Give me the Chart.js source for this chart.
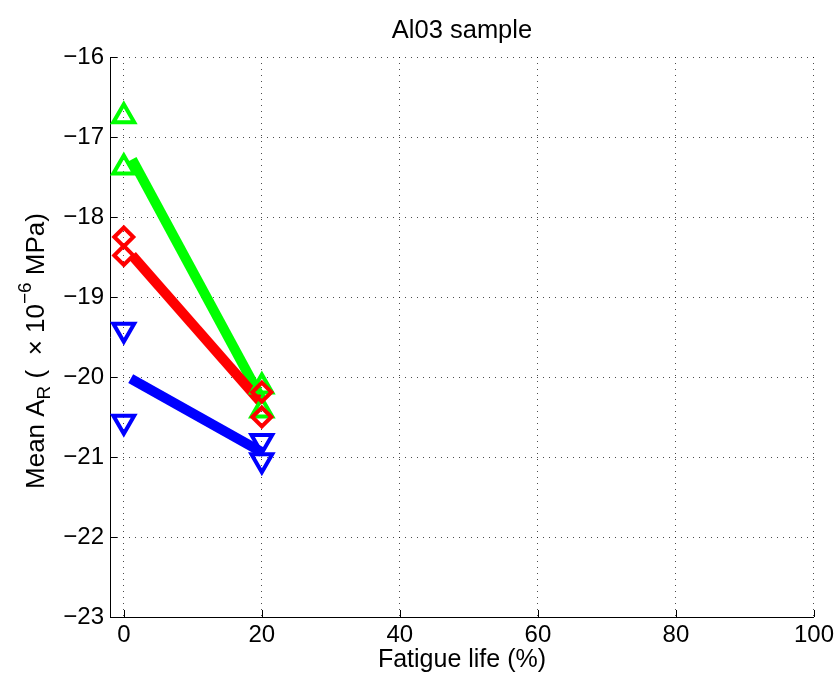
<!DOCTYPE html>
<html>
<head>
<meta charset="utf-8">
<script src="https://cdn.jsdelivr.net/npm/chart.js@4.4.1/dist/chart.umd.min.js"></script>
<style>
  html, body { margin: 0; padding: 0; background: #fff; }
  #wrap { width: 838px; height: 675px; position: relative; }
</style>
</head>
<body>
<div id="wrap"><canvas id="chart" width="838" height="675"></canvas></div>
<script>
// axis ticks
const xTicks = [0, 20, 40, 60, 80, 100];
const yTicks = [-23, -22, -21, -20, -19, -18, -17, -16];

// measured mean A_R, two samples at each fatigue level
const greenX = [0, 0, 20, 20];
const greenY = [-16.74, -17.38, -20.12, -20.42];
const redX = [0, 0, 20, 20];
const redY = [-18.25, -18.48, -20.19, -20.5];
const blueX = [0, 0, 20, 20];
const blueY = [-19.41, -20.56, -20.8, -21.04];

// fitted trend lines (start / end)
const greenFitX = [1.2, 20];
const greenFitY = [-17.28, -20.28];
const redFitX = [1.2, 20];
const redFitY = [-18.48, -20.33];
const blueFitX = [1.0, 20];
const blueFitY = [-20.02, -20.94];

const FONT = "'Liberation Sans', Arial, Helvetica, sans-serif";

const toPts = (xs, ys) => xs.map((x, i) => ({ x: x, y: ys[i] }));

// inward tick marks, title and axis labels (the label needs sub/superscripts)
const decorPlugin = {
  id: 'decor',
  afterDraw(chart) {
    const ctx = chart.ctx;
    const xs = chart.scales.x, ys = chart.scales.y;
    const area = chart.chartArea;
    ctx.save();
    ctx.strokeStyle = '#000';
    ctx.lineWidth = 1;
    ctx.beginPath();
    yTicks.forEach(v => {
      const py = Math.round(ys.getPixelForValue(v)) + 0.5;
      ctx.moveTo(area.left, py);
      ctx.lineTo(area.left + 7, py);
    });
    xTicks.forEach(v => {
      const px = Math.round(xs.getPixelForValue(v)) + 0.5;
      ctx.moveTo(px, area.bottom);
      ctx.lineTo(px, area.bottom - 7);
    });
    ctx.stroke();

    ctx.fillStyle = '#000';
    ctx.textAlign = 'center';
    ctx.textBaseline = 'middle';
    ctx.font = '25.5px ' + FONT;
    ctx.fillText('Al03 sample', (area.left + area.right) / 2, 31);
    ctx.font = '25px ' + FONT;
    ctx.fillText('Fatigue life (%)', (area.left + area.right) / 2, 660);

    // rotated y label: Mean A_R ( × 10^−6 MPa)
    const parts = [
      { t: 'Mean A', size: 26, dy: 0 },
      { t: 'R', size: 19, dy: 8 },
      { t: ' (  \u00d7 10', size: 26, dy: 0 },
      { t: '\u22126', size: 19, dy: -11 },
      { t: ' MPa)', size: 26, dy: 0 }
    ];
    let total = 0;
    parts.forEach(p => {
      ctx.font = p.size + 'px ' + FONT;
      p.w = ctx.measureText(p.t).width;
      total += p.w;
    });
    ctx.translate(37, 351);
    ctx.rotate(-Math.PI / 2);
    ctx.textAlign = 'left';
    let cx = -total / 2;
    parts.forEach(p => {
      ctx.font = p.size + 'px ' + FONT;
      ctx.fillText(p.t, cx, p.dy);
      cx += p.w;
    });
    ctx.restore();
  }
};

const lineSet = (label, xs, ys, color, order) => ({
  type: 'line',
  label: label,
  data: toPts(xs, ys),
  borderColor: color,
  borderWidth: 10,
  borderCapStyle: 'butt',
  pointRadius: 0,
  fill: false,
  order: order
});

const markerSet = (label, xs, ys, color, style, radius, rotation, order) => ({
  type: 'scatter',
  label: label,
  data: toPts(xs, ys),
  borderColor: color,
  backgroundColor: 'rgba(0,0,0,0)',
  pointStyle: style,
  pointRadius: radius,
  pointRotation: rotation,
  pointBorderWidth: 4,
  pointHoverRadius: radius,
  order: order
});

new Chart(document.getElementById('chart'), {
  type: 'scatter',
  data: {
    datasets: [
      lineSet('green fit', greenFitX, greenFitY, '#00ff00', 6),
      lineSet('red fit', redFitX, redFitY, '#ff0000', 5),
      lineSet('blue fit', blueFitX, blueFitY, '#0000ff', 4),
      markerSet('green', greenX, greenY, '#00ff00', 'triangle', 12, 0, 3),
      markerSet('red', redX, redY, '#ff0000', 'rectRot', 9.5, 0, 2),
      markerSet('blue', blueX, blueY, '#0000ff', 'triangle', 12, 180, 1)
    ]
  },
  options: {
    responsive: false,
    animation: false,
    events: [],
    layout: { padding: { top: 57, right: 24, left: 0, bottom: 0 } },
    plugins: {
      legend: { display: false },
      title: { display: false },
      tooltip: { enabled: false }
    },
    scales: {
      x: {
        type: 'linear',
        min: -2,
        max: 100,
        afterBuildTicks: s => { s.ticks = xTicks.map(v => ({ value: v })); },
        afterFit: s => { s.height = 58; },
        grid: { color: 'rgba(0,0,0,0.7)', lineWidth: 1, drawTicks: false },
        border: { display: true, color: '#000', width: 1, dash: [1, 5] },
        ticks: {
          color: '#000',
          padding: 4,
          font: { family: FONT, size: 24 },
          maxRotation: 0,
          callback: v => String(v)
        }
      },
      y: {
        type: 'linear',
        min: -23,
        max: -16,
        afterBuildTicks: s => { s.ticks = yTicks.map(v => ({ value: v })); },
        afterFit: s => { s.width = 110; },
        grid: { color: 'rgba(0,0,0,0.7)', lineWidth: 1, drawTicks: false },
        border: { display: true, color: '#000', width: 1, dash: [1, 5] },
        ticks: {
          color: '#000',
          padding: 6,
          font: { family: FONT, size: 24 },
          callback: v => (v < 0 ? '\u2212' + Math.abs(v) : String(v))
        }
      }
    }
  },
  plugins: [decorPlugin]
});
</script>
</body>
</html>
